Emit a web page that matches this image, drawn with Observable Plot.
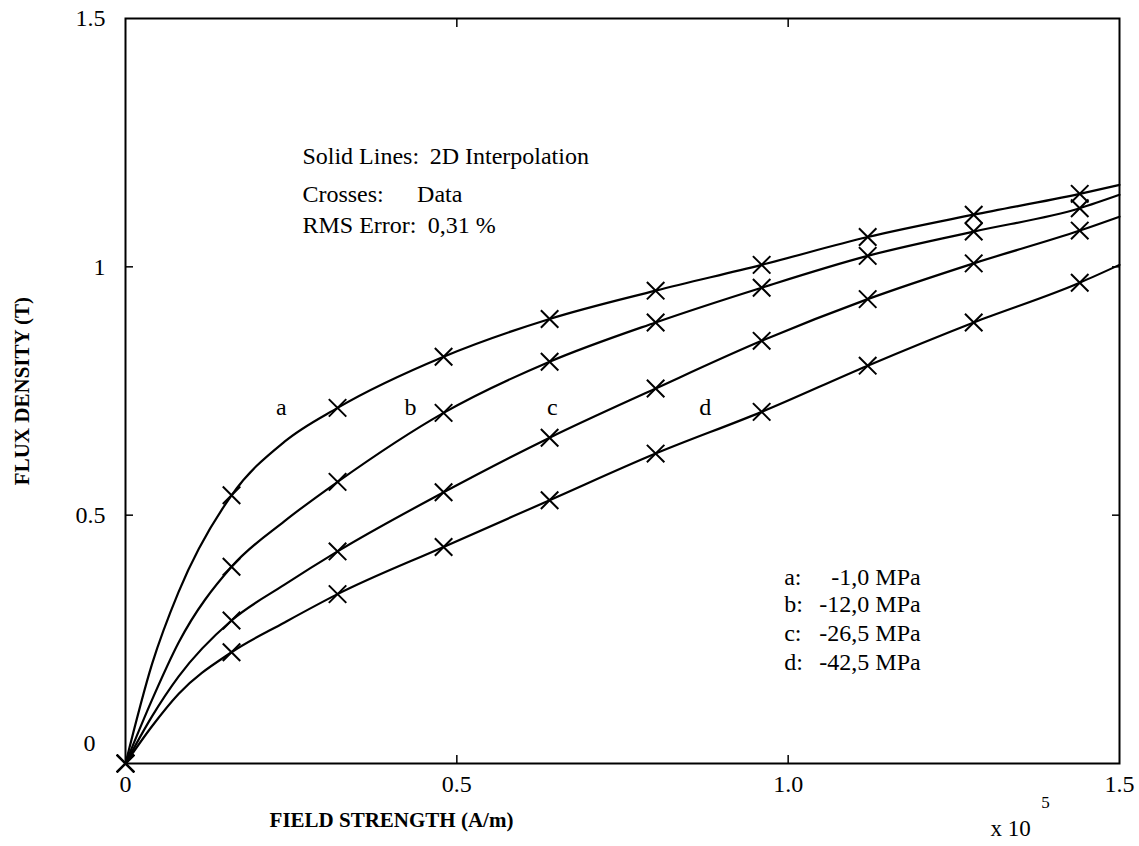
<!DOCTYPE html>
<html>
<head>
<meta charset="utf-8">
<script src="https://cdn.jsdelivr.net/npm/d3@7"></script>
<script src="https://cdn.jsdelivr.net/npm/@observablehq/plot@0.6"></script>
<style>
  html, body { margin: 0; padding: 0; background: #fff; }
  svg, svg text { font-family: "Liberation Serif", "Times New Roman", serif !important; }
</style>
</head>
<body>
<div id="chart"></div>
<script>
// Field strength (x 10^5 A/m) where data crosses were measured
const fieldX = [0, 0.16, 0.32, 0.48, 0.64, 0.80, 0.96, 1.12, 1.28, 1.44];
// Flux density (T) data crosses per stress level
const seriesA = [0, 0.540, 0.716, 0.819, 0.895, 0.952, 1.004, 1.060, 1.105, 1.147];
const seriesB = [0, 0.396, 0.567, 0.706, 0.809, 0.888, 0.958, 1.022, 1.071, 1.118];
const seriesC = [0, 0.288, 0.427, 0.546, 0.656, 0.755, 0.851, 0.935, 1.007, 1.073];
const seriesD = [0, 0.224, 0.341, 0.436, 0.530, 0.624, 0.708, 0.801, 0.888, 0.968];
// Extra points
const curveExtraX = [0.04, 0.08, 0.24, 1.5];
const curveExtraA = [0.20, 0.345, 0.648, 1.165];
const curveExtraB = [0.128, 0.243, 0.488, 1.145];
const curveExtraC = [0.095, 0.175, 0.360, 1.101];
const curveExtraD = [0.075, 0.14, 0.284, 1.004];

const seriesKeys = ["a", "b", "c", "d"];
const seriesStress = ["-1,0 MPa", "-12,0 MPa", "-26,5 MPa", "-42,5 MPa"];
const curveLabelX = [0.235, 0.430, 0.644, 0.875];
const curveLabelY = 0.718;

const xTickValues = [0, 0.5, 1.0, 1.5];
const xTickLabels = ["0", "0.5", "1.0", "1.5"];
const yTickValues = [0.5, 1, 1.5];
const yTickLabels = ["0.5", "1", "1.5"];

const noteLabels = ["Solid Lines:", "Crosses:", "RMS Error:"];
const noteValues = ["2D Interpolation", "Data", "0,31 %"];

const allSeries = [seriesA, seriesB, seriesC, seriesD];
const allExtra = [curveExtraA, curveExtraB, curveExtraC, curveExtraD];

const crosses = [];
const lines = [];
seriesKeys.forEach((k, i) => {
  fieldX.forEach((x, j) => {
    crosses.push({series: k, x, y: allSeries[i][j]});
    lines.push({series: k, x, y: allSeries[i][j]});
  });
  curveExtraX.forEach((x, j) => lines.push({series: k, x, y: allExtra[i][j]}));
});
lines.sort((p, q) => p.series.localeCompare(q.series) || p.x - q.x);

const FONT = "'Liberation Serif', 'Times New Roman', serif";
const fs = 24;
const noteY = [1.222, 1.147, 1.083];
const noteValueX = [0.459, 0.440, 0.456];
const legendY = [0.375, 0.320, 0.263, 0.204];

const chart = Plot.plot({
  width: 1139,
  height: 846,
  marginLeft: 125,
  marginRight: 20,
  marginTop: 18,
  marginBottom: 83,
  x: {domain: [0, 1.5], axis: null},
  y: {domain: [0, 1.5], axis: null},
  style: {fontFamily: FONT, fontSize: fs + "px", background: "white", color: "black"},
  marks: [
    Plot.frame({stroke: "black", strokeWidth: 2}),
    // inward ticks
    Plot.axisX({anchor: "bottom", ticks: [0.5, 1], tickSize: -8, tickFormat: () => "", strokeWidth: 1.5, label: null}),
    Plot.axisX({anchor: "top", ticks: [0.5, 1], tickSize: -8, tickFormat: () => "", strokeWidth: 1.5, label: null}),
    Plot.axisY({anchor: "left", ticks: [0.5, 1], tickSize: -8, tickFormat: () => "", strokeWidth: 1.5, label: null}),
    Plot.axisY({anchor: "right", ticks: [0.5, 1], tickSize: -8, tickFormat: () => "", strokeWidth: 1.5, label: null}),
    // tick labels
    Plot.text(xTickValues, {x: d => d, text: (d, i) => xTickLabels[i], frameAnchor: "bottom", dy: 28, fontSize: fs, fontFamily: FONT}),
    Plot.text(yTickValues, {y: d => d, text: (d, i) => yTickLabels[i], frameAnchor: "left", textAnchor: "end", dx: -20, fontSize: fs, fontFamily: FONT}),
    Plot.text([0], {y: d => d, text: ["0"], frameAnchor: "left", textAnchor: "end", dx: -30, dy: -20, fontSize: fs, fontFamily: FONT}),
    // axis titles
    Plot.text(["FIELD STRENGTH (A/m)"], {frameAnchor: "bottom-left", dx: 266, dy: 63, textAnchor: "middle", fontWeight: "bold", fontSize: 21, fontFamily: FONT}),
    Plot.text(["FLUX DENSITY (T)"], {frameAnchor: "left", dx: -103, dy: 0, rotate: -90, textAnchor: "middle", fontWeight: "bold", fontSize: 21, fontFamily: FONT}),
    Plot.text(["x 10"], {frameAnchor: "bottom-right", dx: -109, dy: 72, textAnchor: "middle", fontSize: 23, fontFamily: FONT}),
    Plot.text(["5"], {frameAnchor: "bottom-right", dx: -74, dy: 44, textAnchor: "middle", fontSize: 17, fontFamily: FONT}),
    // curves
    Plot.line(lines, {x: "x", y: "y", z: "series", curve: "monotone-x", stroke: "black", strokeWidth: 2.2}),
    Plot.dot(crosses, {x: "x", y: "y", symbol: "times", r: 8, stroke: "black", strokeWidth: 2}),
    // curve letters
    Plot.text(seriesKeys, {x: (d, i) => curveLabelX[i], y: () => curveLabelY, text: d => d, fontSize: fs, fontFamily: FONT}),
    // notes
    Plot.text(noteLabels, {x: 0.267, y: (d, i) => noteY[i], text: d => d, textAnchor: "start", fontSize: fs, fontFamily: FONT}),
    Plot.text(noteValues, {x: (d, i) => noteValueX[i], y: (d, i) => noteY[i], text: d => d, textAnchor: "start", fontSize: fs, fontFamily: FONT}),
    // legend
    Plot.text(seriesKeys, {x: 0.994, y: (d, i) => legendY[i], text: d => d + ":", textAnchor: "start", fontSize: fs, fontFamily: FONT}),
    Plot.text(seriesStress, {x: 1.200, y: (d, i) => legendY[i], text: d => d, textAnchor: "end", fontSize: fs, fontFamily: FONT})
  ]
});
document.getElementById("chart").appendChild(chart);
</script>
</body>
</html>
